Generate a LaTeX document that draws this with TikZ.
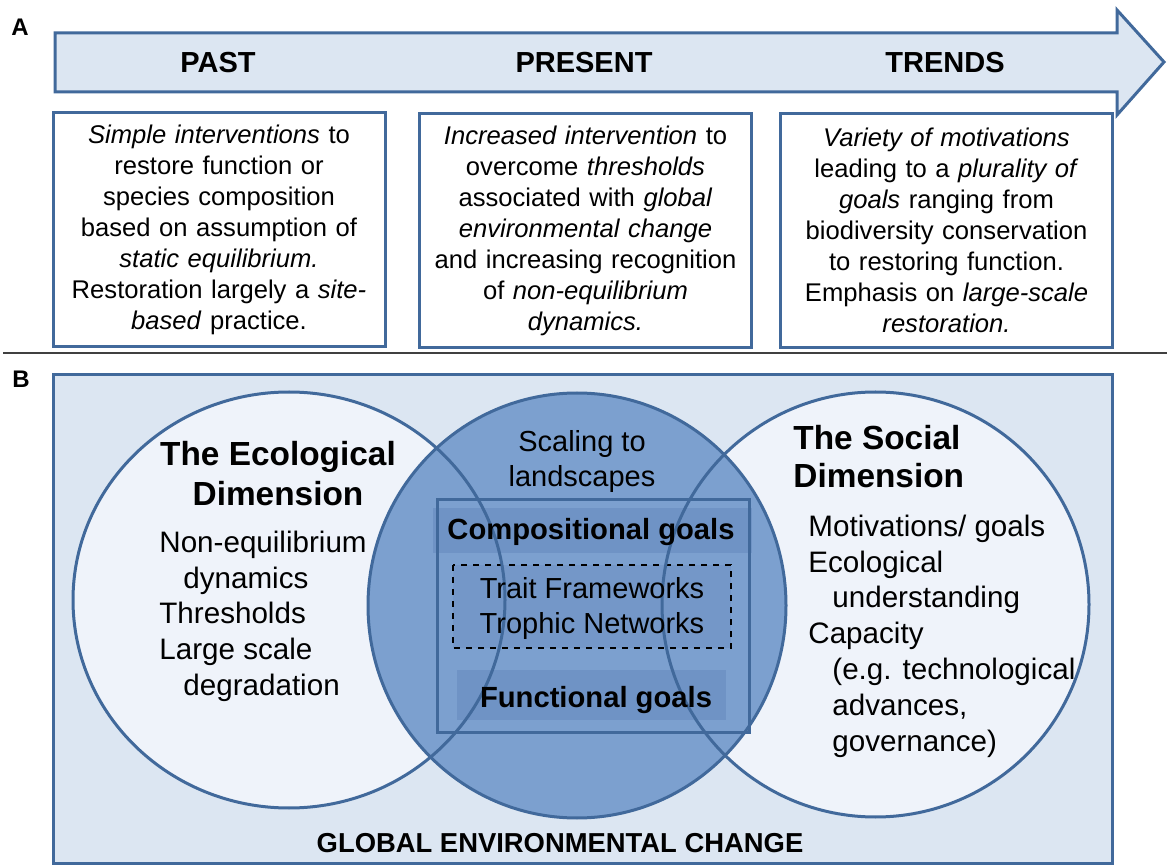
\documentclass[tikz,border=0pt]{standalone}
\usepackage{fontspec}
\setmainfont{Liberation Sans}
\definecolor{edgeblue}{RGB}{65,105,155}
\definecolor{paleblue}{RGB}{220,230,242}
\definecolor{whiteblue}{RGB}{239,243,250}
\definecolor{midblue}{RGB}{124,160,207}
\definecolor{bandblue}{RGB}{111,147,197}
\definecolor{dashblue}{RGB}{116,151,200}
\begin{document}
\begin{tikzpicture}[x=0.5pt, y=-0.5pt,
  era/.style={font=\fontsize{14.5}{17}\selectfont\bfseries, inner sep=0pt, anchor=base},
  erabox/.style={draw=edgeblue, line width=1.5pt, fill=white, minimum width=166pt, minimum height=117pt, text width=160pt, align=center, inner sep=0pt, font=\fontsize{12.8}{15.5}\selectfont},
  dimtitle/.style={font=\fontsize{16.7}{20}\selectfont\bfseries, inner sep=0pt, anchor=base},
  itemlist/.style={font=\fontsize{14.8}{17.8}\selectfont, align=left, inner sep=0pt, anchor=base west},
  venntext/.style={font=\fontsize{14.5}{17.5}\selectfont, align=center, inner sep=0pt, anchor=base},
  goaltext/.style={font=\fontsize{14.6}{17.5}\selectfont\bfseries, inner sep=0pt, anchor=base},
  paneltag/.style={font=\fontsize{12}{14}\selectfont\bfseries, inner sep=0pt}]
\useasboundingbox (0,0) rectangle (1167,865);
\node[paneltag] (tagA) at (20,27) {A};
\draw[edgeblue, line width=1.5pt, fill=paleblue, line join=miter] (55,33) -- (1117,33) -- (1117,10) -- (1164,62) -- (1117,115) -- (1117,92) -- (55,92) -- cycle;
\node[era] (past) at (218,73) {PAST};
\node[era] (present) at (584,73) {PRESENT};
\node[era] (trends) at (945,73) {TRENDS};
\node[erabox] (pastbox) at (219,230) {\textit{Simple interventions} to\\ restore function or\\ species composition\\ based on assumption of\\ \textit{static equilibrium.}\\ Restoration largely a \textit{site-}\\ \textit{based} practice.};
\node[erabox] (presentbox) at (585.5,230.5) {\textit{Increased intervention} to\\ overcome \textit{thresholds}\\ associated with \textit{global}\\ \textit{environmental change}\\ and increasing recognition\\ of \textit{non-equilibrium}\\ \textit{dynamics.}};
\node[erabox] (trendsbox) at (946.5,230.5) {\textit{Variety of motivations}\\ leading to a \textit{plurality of}\\ \textit{goals} ranging from\\ biodiversity conservation\\ to restoring function.\\ Emphasis on \textit{large-scale}\\ \textit{restoration.}};
\draw[black!75, line width=1pt] (3,353) -- (1167,353);
\node[paneltag] (tagB) at (21,379) {B};
\draw[edgeblue, line width=1.5pt, fill=paleblue] (53,375) rectangle (1112,863);
\fill[whiteblue] (289,600) ellipse [x radius=108pt, y radius=104pt];
\fill[whiteblue] (875.5,604.5) ellipse [x radius=106.75pt, y radius=106.25pt];
\fill[midblue] (577,605.5) ellipse [x radius=104.5pt, y radius=106.25pt];
\fill[bandblue] (433,508) rectangle (752,553);
\fill[dashblue] (453,565) rectangle (731,648);
\draw[black, dashed, line width=0.6pt] (453,565) rectangle (731,648);
\fill[bandblue] (457,670) rectangle (726,720);
\draw[edgeblue, line width=1.5pt] (437,500) rectangle (749,732);
\draw[edgeblue, line width=1.5pt] (289,600) ellipse [x radius=108pt, y radius=104pt];
\draw[edgeblue, line width=1.5pt] (875.5,604.5) ellipse [x radius=106.75pt, y radius=106.25pt];
\draw[edgeblue, line width=1.5pt] (577,605.5) ellipse [x radius=104.5pt, y radius=106.25pt];
\node[dimtitle, align=center] (ecotitle) at (278,506) {The Ecological\\ Dimension};
\node[itemlist] (ecolist) at (159,695) {Non-equilibrium\\ \hspace*{12pt}dynamics\\ Thresholds\\ Large scale\\ \hspace*{12pt}degradation};
\node[venntext] (scaling) at (582,487) {Scaling to\\ landscapes};
\node[goaltext] (compgoals) at (591,540) {Compositional goals};
\node[venntext] (traits) at (592,633) {Trait Frameworks\\ Trophic Networks};
\node[goaltext] (funcgoals) at (596,707) {Functional goals};
\node[dimtitle, align=left, font=\fontsize{16.7}{19}\selectfont\bfseries, anchor=base west] (soctitle) at (793,488) {The Social\\ Dimension};
\node[itemlist, font=\fontsize{14.8}{17.9}\selectfont] (soclist) at (808,751) {Motivations/ goals\\ Ecological\\ \hspace*{12pt}understanding\\ Capacity\\ \hspace*{12pt}(e.g. technological\\ \hspace*{12pt}advances,\\ \hspace*{12pt}governance)};
\node[era, font=\fontsize{13.7}{17}\selectfont\bfseries] (gec) at (560,852) {GLOBAL ENVIRONMENTAL CHANGE};
\end{tikzpicture}
\end{document}
